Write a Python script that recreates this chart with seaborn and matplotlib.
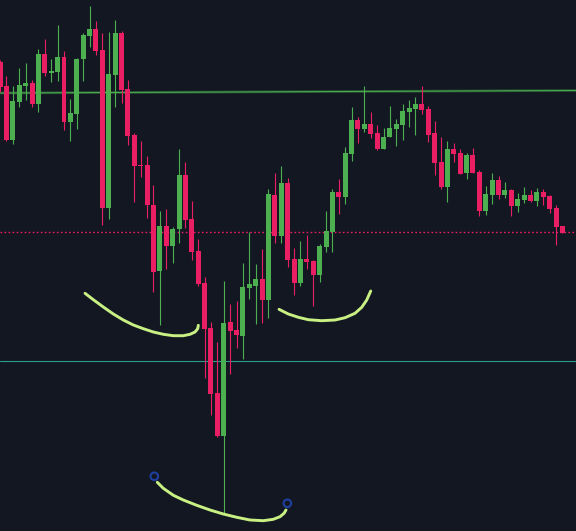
import numpy as np
import pandas as pd
import matplotlib
matplotlib.use("Agg")
import matplotlib.pyplot as plt
import seaborn as sns

# candle data (price levels, one entry per bar)
opens = [469, 445, 391, 429, 445, 448, 427, 477, 458, 459, 474, 409, 417, 472, 495,
         502, 481, 323, 456, 498, 442, 396, 366, 366, 326, 260, 305, 285, 302, 356,
         312, 280, 248, 203, 138, 95, 209, 201, 195, 243, 245, 252, 231, 336, 295,
         348, 272, 248, 272, 270, 256, 284, 299, 339, 334, 377, 411, 402, 407, 398,
         382, 394, 402, 406, 419, 422, 427, 422, 398, 369, 344, 382, 378, 358, 376,
         359, 320, 336, 351, 336, 341, 325, 331, 336, 330, 339, 335, 323, 305]
highs = [471, 455, 445, 463, 468, 451, 482, 492, 472, 506, 480, 432, 473, 498, 525,
         510, 498, 499, 511, 500, 451, 398, 390, 375, 346, 320, 322, 304, 382, 369,
         330, 292, 254, 209, 189, 250, 227, 230, 268, 299, 267, 282, 342, 358, 365,
         353, 283, 290, 296, 271, 287, 320, 342, 352, 384, 424, 414, 445, 419, 406,
         403, 425, 412, 427, 431, 434, 445, 425, 410, 394, 390, 388, 382, 378, 383,
         361, 345, 358, 355, 349, 342, 338, 344, 341, 343, 342, 336, 326, 305]
lows = [439, 390, 387, 424, 431, 424, 419, 455, 449, 450, 401, 390, 402, 450, 484,
        476, 306, 312, 424, 428, 386, 329, 354, 313, 239, 206, 262, 268, 288, 303,
        271, 245, 153, 116, 94, 18, 157, 183, 172, 232, 207, 208, 213, 288, 288,
        264, 236, 245, 262, 225, 249, 279, 279, 317, 327, 370, 388, 399, 393, 381,
        382, 394, 385, 391, 404, 396, 417, 389, 356, 342, 329, 369, 357, 352, 358,
        315, 316, 327, 332, 333, 315, 319, 328, 329, 325, 326, 318, 286, 298]
closes = [444, 391, 430, 446, 448, 427, 477, 458, 460, 474, 409, 418, 472, 496, 502,
          480, 323, 457, 498, 441, 395, 365, 365, 326, 259, 305, 285, 302, 356, 311,
          279, 247, 202, 137, 95, 208, 200, 196, 244, 247, 252, 231, 337, 295, 348,
          271, 248, 272, 269, 256, 285, 300, 339, 334, 378, 411, 402, 407, 397, 382,
          394, 403, 407, 420, 423, 427, 421, 396, 368, 344, 382, 377, 357, 376, 358,
          320, 337, 351, 336, 341, 325, 332, 336, 330, 339, 334, 322, 304, 298]

# horizontal levels
trend_start, trend_end = 438, 440.5
dotted_level = 298.7
teal_level = 169.7

# hand drawn annotation curves (bar index, price)
curve1_x = [13.29, 14.59, 16.15, 17.72, 19.28, 20.85, 22.41, 23.98, 25.54, 27.11,
            28.67, 29.72, 30.50, 30.92, 31.02]
curve1_y = [237.7, 231.3, 224.0, 217.0, 211.0, 206.0, 202.3, 199.0, 196.7, 195.3,
            195.3, 196.7, 199.0, 202.3, 205.7]
curve2_x = [43.65, 45.10, 46.67, 48.23, 50.33, 52.41, 53.98, 55.54, 56.59, 57.37, 58.00]
curve2_y = [221.7, 217.0, 213.7, 211.3, 210.3, 211.0, 213.3, 217.7, 223.7, 231.0, 240.0]
curve3_x = [24.60, 25.54, 27.11, 28.67, 30.77, 32.85, 34.93, 37.03, 39.11, 41.19,
            42.75, 43.80, 44.43, 44.74]
curve3_y = [48.7, 42.7, 35.7, 31.0, 25.7, 21.0, 17.0, 13.7, 11.0, 10.3,
            11.7, 14.3, 17.7, 21.0]
anchor_x = [24.13, 44.95]
anchor_y = [54.7, 27.7]

BG = "#131722"
UP = "#4caf50"
DOWN = "#e91e63"
MARK = "#c8f083"

sns.set_theme(style="dark", rc={"axes.facecolor": BG, "figure.facecolor": BG})

df = pd.DataFrame({"open": opens, "high": highs, "low": lows, "close": closes})
df["idx"] = np.arange(len(df))
df["up"] = df["close"] >= df["open"]
df["color"] = np.where(df["up"], UP, DOWN)

fig = plt.figure(figsize=(5.76, 5.31), dpi=100)
ax = fig.add_axes([0, 0, 1, 1])

# levels
ax.plot([-0.016, 90.12], [trend_start, trend_end], color="#2c5f36", lw=1.9, alpha=0.85, zorder=1)
ax.plot([-0.016, 90.12], [trend_start, trend_end], color=UP, lw=0.7, zorder=1)
ax.axhline(dotted_level, color=DOWN, lw=1.0, dashes=(1.2, 1.7), zorder=1)
ax.axhline(teal_level, color="#2a9d8f", lw=0.8, zorder=1)

# candles
ax.vlines(df["idx"], df["low"], df["high"], colors=df["color"], lw=0.8, zorder=2)
body_low = df[["open", "close"]].min(axis=1)
body_h = (df["open"] - df["close"]).abs().clip(lower=1)
ax.bar(df["idx"], body_h, bottom=body_low, width=0.78, color=df["color"], linewidth=0, zorder=3)

# annotations
for cx, cy in [(curve1_x, curve1_y), (curve2_x, curve2_y), (curve3_x, curve3_y)]:
    sns.lineplot(x=cx, y=cy, ax=ax, color=MARK, lw=2.1, sort=False, estimator=None,
                 solid_capstyle="round", solid_joinstyle="round", zorder=4)
ax.scatter(anchor_x, anchor_y, s=30, facecolors="none", edgecolors="#1f3f9f", linewidths=1.5, zorder=5)

ax.set_xlim(-0.016, 90.12)
ax.set_ylim(0, 531)
ax.set_xticks([])
ax.set_yticks([])
ax.set_xlabel("")
ax.set_ylabel("")
for s in ax.spines.values():
    s.set_visible(False)

fig.savefig("out.png", dpi=100, facecolor=BG)
